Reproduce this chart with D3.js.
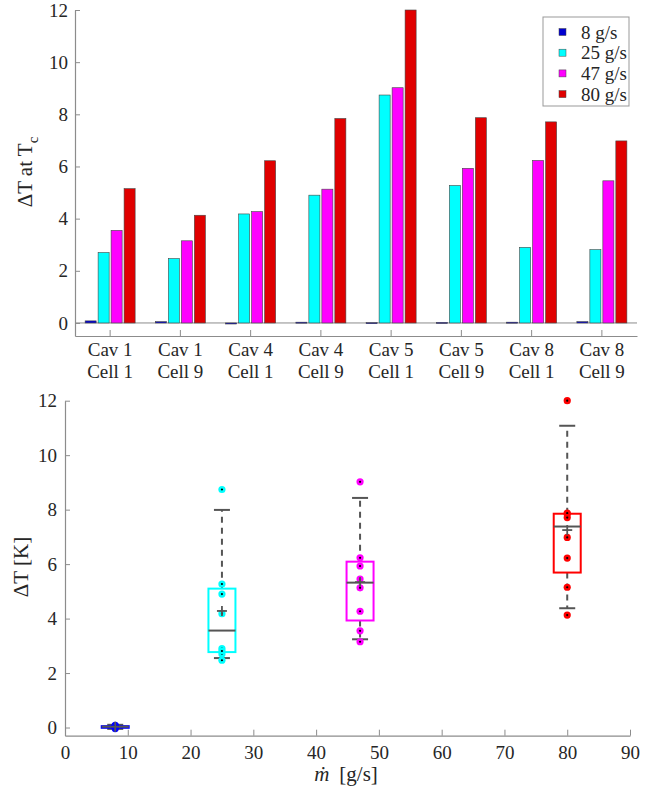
<!DOCTYPE html>
<html>
<head>
<meta charset="utf-8">
<script src="https://cdn.jsdelivr.net/npm/d3@7"></script>
<style>
  body { margin: 0; background: #fff; }
  svg text { font-family: "Liberation Serif", "Times New Roman", Times, "DejaVu Serif", serif; fill: #262626; }
</style>
</head>
<body>
<div id="chart"></div>
<script>
// categories of the bar chart
var cavLabels = ["Cav 1", "Cav 1", "Cav 4", "Cav 4", "Cav 5", "Cav 5", "Cav 8", "Cav 8"];
var cellLabels = ["Cell 1", "Cell 9", "Cell 1", "Cell 9", "Cell 1", "Cell 9", "Cell 1", "Cell 9"];

// delta T per location, one array per mass flow
var flow8  = [0.08, 0.05, -0.04, 0.03, 0.01, 0.02, 0.03, 0.05];
var flow25 = [2.70, 2.47, 4.18, 4.90, 8.74, 5.27, 2.90, 2.81];
var flow47 = [3.55, 3.15, 4.27, 5.13, 9.02, 5.93, 6.23, 5.45];
var flow80 = [5.15, 4.13, 6.22, 7.84, 12.0, 7.87, 7.71, 6.98];

var flowNames = ["8 g/s", "25 g/s", "47 g/s", "80 g/s"];
var flowRates = [8, 25, 47, 80];

// box plot stats
var boxQ1   = [-0.01, 2.77, 3.93, 5.69];
var boxMed  = [0.03, 3.56, 5.32, 7.38];
var boxQ3   = [0.05, 5.10, 6.09, 7.85];
var whiskLo = [-0.05, 2.55, 3.24, 4.38];
var whiskHi = [0.10, 7.99, 8.43, 11.08];
var boxMean = [0.03, 4.28, 5.34, 7.25];

var barColors = ["#0000d0", "#00ffff", "#ff00ff", "#e00000"];
var dotColors = ["#0000ff", "#00ffff", "#ff00ff", "#ff0000"];
var axisColor = "#8c8c8c";
var lineGray = "#555";
var serif = "'Liberation Serif', 'Times New Roman', Times, 'DejaVu Serif', serif";

var series = [flow8, flow25, flow47, flow80];

var svg = d3.select("#chart").append("svg")
  .attr("width", 652)
  .attr("height", 794);

function styleAxis(g) {
  g.attr("font-family", serif);
  g.selectAll("path.domain").attr("stroke", axisColor).attr("stroke-width", 1.2);
  g.selectAll(".tick line").attr("stroke", axisColor);
  g.selectAll(".tick text")
    .style("font-family", serif)
    .style("font-size", "19px")
    .attr("fill", "#262626");
}

// ---------- top: grouped bars ----------
var x0 = d3.scaleBand()
  .domain(d3.range(cavLabels.length))
  .range([75, 637]);

var x1 = d3.scaleBand()
  .domain(d3.range(series.length))
  .range([-25, 25])
  .paddingInner(0.15);

var yTop = d3.scaleLinear()
  .domain([-0.5, 12])
  .range([336, 10]);

// zero line
svg.append("line")
  .attr("x1", 75).attr("x2", 637)
  .attr("y1", yTop(0)).attr("y2", yTop(0))
  .attr("stroke", axisColor).attr("stroke-width", 1);

var groups = svg.selectAll("g.grp")
  .data(cavLabels)
  .enter().append("g")
  .attr("class", "grp")
  .attr("transform", function(d, i) { return "translate(" + (x0(i) + x0.bandwidth() / 2) + ",0)"; });

groups.selectAll("rect")
  .data(function(d, i) { return series.map(function(s, k) { return { k: k, v: s[i] }; }); })
  .enter().append("rect")
  .attr("x", function(d) { return x1(d.k); })
  .attr("width", x1.bandwidth())
  .attr("y", function(d) { return yTop(Math.max(0, d.v)); })
  .attr("height", function(d) { return Math.max(1, Math.abs(yTop(d.v) - yTop(0))); })
  .attr("fill", function(d) { return barColors[d.k]; })
  .attr("stroke", "#444")
  .attr("stroke-width", 0.6);

var yAxisTop = svg.append("g")
  .attr("transform", "translate(75,0)")
  .call(d3.axisLeft(yTop).tickValues([0, 2, 4, 6, 8, 10, 12]).tickSize(-5).tickPadding(7).tickSizeOuter(0));
styleAxis(yAxisTop);

var xAxisTop = svg.append("g")
  .attr("transform", "translate(0,336)")
  .call(d3.axisBottom(x0).tickSize(-6).tickSizeOuter(0).tickFormat(""));
styleAxis(xAxisTop);

xAxisTop.selectAll(".tick").append("text")
  .attr("text-anchor", "middle")
  .style("font-family", serif)
  .style("font-size", "19px")
  .attr("fill", "#262626")
  .each(function(d) {
    var t = d3.select(this);
    t.append("tspan").attr("x", 0).attr("y", 20).text(cavLabels[d]);
    t.append("tspan").attr("x", 0).attr("y", 42).text(cellLabels[d]);
  });

// y label top
var ylab = svg.append("text")
  .attr("transform", "translate(32,172) rotate(-90)")
  .attr("text-anchor", "middle")
  .style("font-family", serif)
  .style("font-size", "21px");
ylab.append("tspan").text("\u0394T at T");
ylab.append("tspan").attr("dy", 6).style("font-size", "15px").text("c");

// legend
var leg = svg.append("g").attr("transform", "translate(543,17)");
leg.append("rect")
  .attr("width", 86).attr("height", 89)
  .attr("fill", "#fff").attr("stroke", "#999").attr("stroke-width", 1);
flowNames.forEach(function(name, i) {
  var cy = 15 + i * 20.7;
  leg.append("rect")
    .attr("x", 16).attr("y", cy - 3.5)
    .attr("width", 7).attr("height", 7)
    .attr("fill", barColors[i]).attr("stroke", "#444").attr("stroke-width", 0.5);
  leg.append("text")
    .attr("x", 38).attr("y", cy)
    .attr("dy", "0.35em")
    .style("font-family", serif)
    .style("font-size", "19px")
    .text(name);
});

// ---------- bottom: box plots ----------
var xB = d3.scaleLinear().domain([0, 90]).range([65, 630]);
var yB = d3.scaleLinear().domain([-0.3, 12]).range([735.7, 400.7]);

var yAxisB = svg.append("g")
  .attr("transform", "translate(65,0)")
  .call(d3.axisLeft(yB).tickValues([0, 2, 4, 6, 8, 10, 12]).tickSize(-5).tickPadding(8).tickSizeOuter(0));
styleAxis(yAxisB);

var xAxisB = svg.append("g")
  .attr("transform", "translate(0,735.7)")
  .call(d3.axisBottom(xB).tickValues(d3.range(0, 91, 10)).tickSize(-6).tickPadding(10).tickSizeOuter(0));
styleAxis(xAxisB);

var boxHalf = 13.5, capHalf = 8, plusHalf = 5;

flowRates.forEach(function(rate, i) {
  var cx = xB(rate);
  var g = svg.append("g");

  // whiskers
  [[boxQ3[i], whiskHi[i]], [boxQ1[i], whiskLo[i]]].forEach(function(w) {
    g.append("line")
      .attr("x1", cx).attr("x2", cx)
      .attr("y1", yB(w[0])).attr("y2", yB(w[1]))
      .attr("stroke", lineGray).attr("stroke-width", 2)
      .attr("stroke-dasharray", "6,5");
    g.append("line")
      .attr("x1", cx - capHalf).attr("x2", cx + capHalf)
      .attr("y1", yB(w[1])).attr("y2", yB(w[1]))
      .attr("stroke", lineGray).attr("stroke-width", 2);
  });

  // box
  g.append("rect")
    .attr("x", cx - boxHalf).attr("width", boxHalf * 2)
    .attr("y", yB(boxQ3[i]))
    .attr("height", Math.max(1, yB(boxQ1[i]) - yB(boxQ3[i])))
    .attr("fill", "none")
    .attr("stroke", dotColors[i]).attr("stroke-width", 2);

  // median
  g.append("line")
    .attr("x1", cx - boxHalf).attr("x2", cx + boxHalf)
    .attr("y1", yB(boxMed[i])).attr("y2", yB(boxMed[i]))
    .attr("stroke", lineGray).attr("stroke-width", 2);

  // points
  series[i].forEach(function(v) {
    g.append("circle")
      .attr("cx", cx).attr("cy", yB(v)).attr("r", 3.6)
      .attr("fill", dotColors[i]);
    g.append("circle")
      .attr("cx", cx).attr("cy", yB(v)).attr("r", 1.1)
      .attr("fill", "#000");
  });

  // mean marker
  g.append("line")
    .attr("x1", cx - plusHalf).attr("x2", cx + plusHalf)
    .attr("y1", yB(boxMean[i])).attr("y2", yB(boxMean[i]))
    .attr("stroke", lineGray).attr("stroke-width", 1.8);
  g.append("line")
    .attr("x1", cx).attr("x2", cx)
    .attr("y1", yB(boxMean[i]) - plusHalf).attr("y2", yB(boxMean[i]) + plusHalf)
    .attr("stroke", lineGray).attr("stroke-width", 1.8);
});

// axis labels bottom
svg.append("text")
  .attr("transform", "translate(28,567) rotate(-90)")
  .attr("text-anchor", "middle")
  .style("font-family", serif)
  .style("font-size", "21px")
  .text("\u0394T [K]");

var xlab = svg.append("text")
  .attr("x", 346).attr("y", 781)
  .attr("text-anchor", "middle")
  .style("font-family", serif)
  .style("font-size", "21px");
xlab.append("tspan").style("font-style", "italic").text("\u1E41");
xlab.append("tspan").attr("dx", 10).text("[g/s]");
</script>
</body>
</html>
